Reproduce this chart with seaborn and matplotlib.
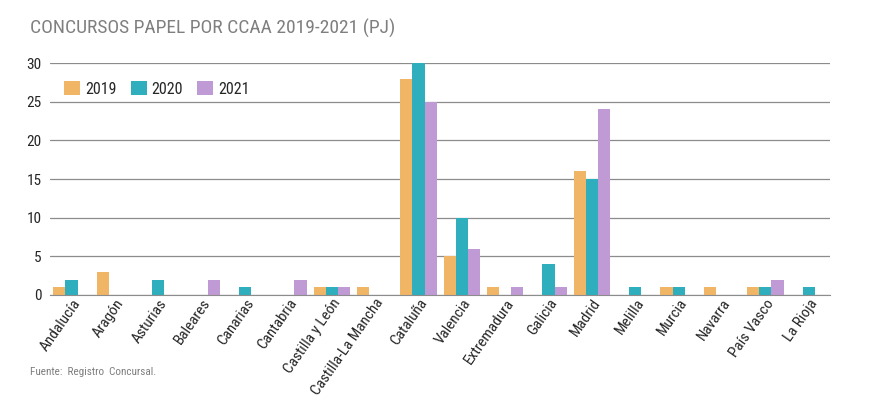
import matplotlib
matplotlib.use("Agg")
import matplotlib.pyplot as plt
import pandas as pd
import seaborn as sns
from matplotlib import font_manager

# ── Data ───────────────────────────────────────────────────────────────────────
regions = [
    "Andalucía", "Aragón", "Asturias", "Baleares", "Canarias", "Cantabria",
    "Castilla y León", "Castilla-La Mancha", "Cataluña", "Valencia",
    "Extremadura", "Galicia", "Madrid", "Melilla", "Murcia", "Navarra",
    "País Vasco", "La Rioja",
]
years = ["2019", "2020", "2021"]
v2019 = [1, 3, 0, 0, 0, 0, 1, 1, 28, 5, 1, 0, 16, 0, 1, 1, 1, 0]
v2020 = [2, 0, 2, 0, 1, 0, 1, 0, 30, 10, 0, 4, 15, 1, 1, 0, 1, 1]
v2021 = [0, 0, 0, 2, 0, 2, 1, 0, 25, 6, 1, 1, 24, 0, 0, 0, 2, 0]
colors = ["#F0B665", "#2FAFBE", "#C09AD5"]

df = pd.DataFrame({"region": regions, "2019": v2019, "2020": v2020, "2021": v2021})
df = df.melt(id_vars="region", var_name="year", value_name="count")

# ── Plot ───────────────────────────────────────────────────────────────────────
sns.set_style("white")
installed = {f.name for f in font_manager.fontManager.ttflist}
narrow = [f for f in ["DejaVu Sans Condensed", "Liberation Sans Narrow",
                      "Roboto Condensed", "Open Sans Condensed"] if f in installed]
plt.rcParams["font.family"] = narrow + ["DejaVu Sans"]
big = 1.0 if narrow else 0.85

fig = plt.figure(figsize=(8.75, 3.97), dpi=100)
ax = fig.add_axes([0.057, 0.257, 0.892, 0.584])

sns.barplot(
    data=df, x="region", y="count", hue="year", hue_order=years,
    palette=colors, width=0.84, saturation=1, ax=ax, errorbar=None,
    linewidth=0,
)

ax.set_ylim(0, 30)
ax.set_yticks(range(0, 31, 5))
ax.set_xlim(-0.5, len(regions) - 0.5)
ax.yaxis.grid(True, color="#8c8c8c", linewidth=0.9)
ax.set_axisbelow(True)
for side in ["top", "right", "left"]:
    ax.spines[side].set_visible(False)
ax.spines["bottom"].set_color("#8c8c8c")
ax.tick_params(axis="y", length=4, color="#8c8c8c", labelsize=11 * big, pad=2)
ax.tick_params(axis="x", length=0, labelsize=11 * big, pad=1)
plt.setp(ax.get_xticklabels(), rotation=55, ha="right", rotation_mode="anchor")
ax.set_xlabel("")
ax.set_ylabel("")

ax.legend(
    loc="upper left", bbox_to_anchor=(0.0, 0.985), ncol=3, frameon=False,
    fontsize=11.5 * big, handlelength=1.0, handleheight=1.0, columnspacing=0.9,
    handletextpad=0.3,
)

fig.text(0.034, 0.915, "CONCURSOS PAPEL POR CCAA 2019-2021 (PJ)",
         fontsize=14 * big, color="#7f7f7f", va="baseline")
fig.text(0.034, 0.055, "Fuente:  Registro  Concursal.",
         fontsize=8 * big, color="#7f7f7f")

plt.savefig("out.png", dpi=100)
plt.close()
